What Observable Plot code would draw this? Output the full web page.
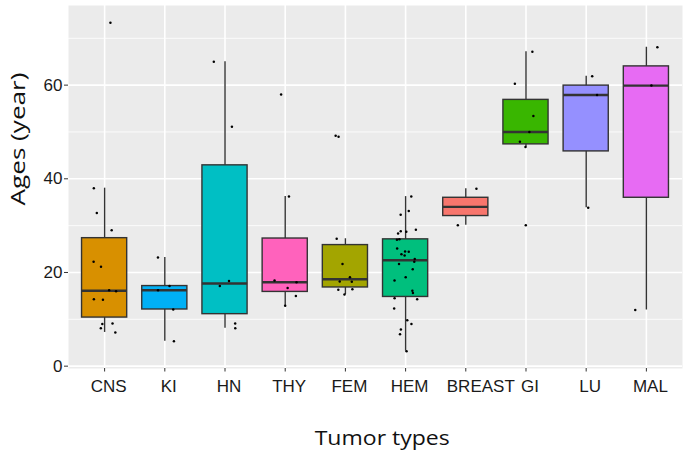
<!DOCTYPE html>
<html><head><meta charset="utf-8">
<script src="https://cdn.jsdelivr.net/npm/d3@7"></script>
<script src="https://cdn.jsdelivr.net/npm/@observablehq/plot@0.6"></script>
<style>body{margin:0;background:#fff} #chart svg{display:block}</style>
</head><body><div id="chart"></div>
<script>
const categories = ["CNS","KI","HN","THY","FEM","HEM","BREAST","GI","LU","MAL"];
const agesCNS = [73.3, 38, 32.7, 29, 22.3, 21.2, 16.2, 16, 14.3, 14.2, 9.1, 9, 8.1, 7.2];
const agesKI = [23.2, 17.1, 16.2, 12.1, 5.3];
const agesHN = [65, 51.1, 18.2, 17.1, 9.1, 8.1];
const agesTHY = [58, 36.2, 18.3, 17.9, 16.7, 15, 12.9];
const agesFEM = [49.2, 49, 27.2, 21.8, 19, 18.1, 18, 16.4, 16.3, 15.3];
const agesHEM = [36.2, 33.1, 32.3, 28.8, 29.1, 28.7, 28.3, 27.1, 27.0, 25.1, 24.4, 24.5, 23.9, 23.6, 22.9, 22.3, 21.8, 20.7, 19, 18.3, 16.1, 15.6, 14.5, 14.3, 12.3, 9.8, 9, 7.8, 6.8, 3.2];
const agesBREAST = [37.9, 30.1];
const agesGI = [67.1, 60.3, 53.4, 50, 47.9, 46.8, 30.1];
const agesLU = [61.9, 57.9, 33.8];
const agesMAL = [68.1, 59.9, 12];
const seriesAges = [agesCNS, agesKI, agesHN, agesTHY, agesFEM, agesHEM, agesBREAST, agesGI, agesLU, agesMAL];
const yTicks = [0, 20, 40, 60];
const yMinorTicks = [10, 30, 50, 70];
const xTitle = "Tumor types";
const yTitle = "Ages (year)";
// ggplot2 default hue palette, assigned in alphabetical order of the factor levels
const hueColors = ["#F8766D","#D89000","#A3A500","#39B600","#00BF7D","#00BFC4","#00B0F6","#9590FF","#E76BF3","#FF62BC"];
const hueDomain = categories.slice().sort();

// box statistics (same as R quantile type 7 / ggplot stat_boxplot)
const stats = categories.map((c, i) => {
  const v = seriesAges[i].slice().sort(d3.ascending);
  const q1 = d3.quantileSorted(v, 0.25), med = d3.quantileSorted(v, 0.5), q3 = d3.quantileSorted(v, 0.75);
  const iqr = q3 - q1;
  const lo = d3.min(v.filter(d => d >= q1 - 1.5 * iqr));
  const hi = d3.max(v.filter(d => d <= q3 + 1.5 * iqr));
  return {i, cat: c, q1, med, q3, lo, hi};
});
const rand = d3.randomLcg(0.4242);
const points = [];
categories.forEach((c, i) => seriesAges[i].forEach(a => points.push({i, cat: c, age: a, j: (rand() * 2 - 1) * 0.2})));

const half = 0.375;
const fontTick = "'Liberation Sans', Arial, sans-serif";
const fontTitle = "'Open Sans', 'Noto Sans', sans-serif";
const idx = d3.range(categories.length);

const plot = Plot.plot({
  width: 685, height: 453,
  marginLeft: 68, marginRight: 3, marginTop: 5, marginBottom: 85,
  style: {background: "#fff", color: "#1a1a1a"},
  x: {type: "linear", domain: [-0.6, categories.length - 0.4], axis: null},
  y: {domain: [-0.5, 77], axis: null},
  color: {domain: hueDomain, range: hueColors},
  marks: [
    Plot.frame({fill: "#EBEBEB", stroke: "none"}),
    Plot.gridY(yMinorTicks, {stroke: "#fff", strokeOpacity: 1, strokeWidth: 0.8}),
    Plot.gridY(yTicks, {stroke: "#fff", strokeOpacity: 1, strokeWidth: 1.6}),
    Plot.gridX(idx, {stroke: "#fff", strokeOpacity: 1, strokeWidth: 1.6}),
    Plot.ruleX(stats, {x: "i", y1: "lo", y2: "hi", stroke: "#333", strokeWidth: 1.4}),
    Plot.rectY(stats, {x1: d => d.i - half, x2: d => d.i + half, y1: "q1", y2: "q3", fill: "cat", stroke: "#333", strokeWidth: 1.4}),
    Plot.ruleY(stats, {x1: d => d.i - half, x2: d => d.i + half, y: "med", stroke: "#333", strokeWidth: 2.4}),
    Plot.dot(points, {x: d => d.i + d.j, y: "age", r: 1.25, fill: "#000", stroke: "none"}),
    Plot.axisY(yTicks, {tickSize: 4, tickPadding: 2, fontSize: 17, fontFamily: fontTick, stroke: "#333", fill: "#1a1a1a", label: null}),
    Plot.axisX(idx, {tickSize: 3.5, tickFormat: () => "", stroke: "#333", label: null}),
    Plot.text(idx.filter(i => categories[i] !== "BREAST"), {x: d => d, text: d => categories[d], frameAnchor: "bottom", dy: 23.5, dx: 4, fontSize: 17, fontFamily: fontTick, fill: "#1a1a1a"}),
    Plot.text(idx.filter(i => categories[i] === "BREAST"), {x: d => d, text: d => categories[d], frameAnchor: "bottom", dy: 23.5, dx: 15, fontSize: 17, fontFamily: fontTick, fill: "#1a1a1a"}),
    Plot.text([xTitle], {frameAnchor: "bottom", lineAnchor: "bottom", dy: 76.3, dx: 6.7, fontSize: 20, fontFamily: fontTitle, fill: "#111"}),
    Plot.text([yTitle], {frameAnchor: "left", lineAnchor: "bottom", rotate: -90, dx: -44, dy: 18.5, fontSize: 20, fontFamily: fontTitle, fill: "#111"})
  ]
});
d3.select(plot).selectAll("text").each(function() {
  const t = this.textContent;
  if (t === xTitle) { this.setAttribute("textLength", 135); this.setAttribute("lengthAdjust", "spacingAndGlyphs"); }
  if (t === yTitle) { this.setAttribute("textLength", 133); this.setAttribute("lengthAdjust", "spacingAndGlyphs"); }
});
document.getElementById("chart").append(plot);
</script>
</body></html>
